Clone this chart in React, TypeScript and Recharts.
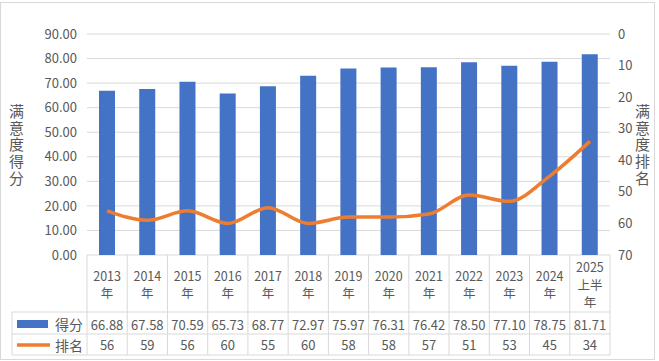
import React from "react";
import {
  ComposedChart,
  Bar,
  Line,
  XAxis,
  YAxis,
  CartesianGrid,
} from "recharts";

// data
const categories = [
  "2013年", "2014年", "2015年", "2016年", "2017年", "2018年", "2019年",
  "2020年", "2021年", "2022年", "2023年", "2024年", "2025上半年",
];
const scores = [66.88, 67.58, 70.59, 65.73, 68.77, 72.97, 75.97, 76.31, 76.42, 78.5, 77.1, 78.75, 81.71];
const ranks = [56, 59, 56, 60, 55, 60, 58, 58, 57, 51, 53, 45, 34];
const scoreTicks = [0, 10, 20, 30, 40, 50, 60, 70, 80, 90];
const rankTicks = [0, 10, 20, 30, 40, 50, 60, 70];

const data = categories.map((c, i) => ({ name: c, score: scores[i], rank: ranks[i] }));

const W = 659;
const H = 361;
const PLOT_L = 87;
const PLOT_R = 610;
const PLOT_T = 34;
const PLOT_B = 255;
const BAND = (PLOT_R - PLOT_L) / categories.length;
const ROW1 = 312;
const ROW2 = 334;
const ROW3 = 355;
const TABLE_L = 12;

const BLUE = "#4472C4";
const ORANGE = "#ED7D31";
const GRID = "#D9D9D9";
const TEXT = "#595959";
const FONT = "'Noto Sans CJK SC', 'Noto Sans', sans-serif";

function splitLabel(s: string) {
  const year = s.slice(0, 4);
  const rest = s.slice(4);
  if (rest.length <= 1) return [year, rest];
  const out = [year];
  for (let i = 0; i < rest.length - 1; i += 2) out.push(rest.slice(i, i + 2));
  if (rest.length % 2 === 1) out.push(rest.slice(-1));
  return out;
}

function TableTick(props: any) {
  const { x, payload } = props;
  const index = props.index ?? payload.index;
  const left = x - BAND / 2;
  const right = x + BAND / 2;
  const lines = splitLabel(categories[index]);
  const lh = 17.5;
  const mid = (PLOT_B + ROW1) / 2;
  const first = mid - ((lines.length - 1) * lh) / 2;
  const last = index === categories.length - 1;
  return (
    <g fontFamily={FONT} fill={TEXT}>
      <line x1={left} x2={left} y1={PLOT_B} y2={ROW3} stroke={GRID} />
      {last && <line x1={right} x2={right} y1={PLOT_B} y2={ROW3} stroke={GRID} />}
      <line x1={left} x2={right} y1={ROW1} y2={ROW1} stroke={GRID} />
      <line x1={left} x2={right} y1={ROW2} y2={ROW2} stroke={GRID} />
      <line x1={left} x2={right} y1={ROW3} y2={ROW3} stroke={GRID} />
      <text x={x} y={first} textAnchor="middle" dominantBaseline="central" fontSize={12.5} fill={TEXT}>
        {lines.map((t, i) => (
          <tspan key={i} x={x} dy={i === 0 ? 0 : lh}>
            {t}
          </tspan>
        ))}
      </text>
      <text x={x} y={(ROW1 + ROW2) / 2 + 1} textAnchor="middle" dominantBaseline="central" fontSize={13} fill={TEXT}>
        {scores[index].toFixed(2)}
      </text>
      <text x={x} y={(ROW2 + ROW3) / 2} textAnchor="middle" dominantBaseline="central" fontSize={13} fill={TEXT}>
        {ranks[index]}
      </text>
      {index === 0 && (
        <g>
          <line x1={TABLE_L} x2={left} y1={ROW1} y2={ROW1} stroke={GRID} />
          <line x1={TABLE_L} x2={left} y1={ROW2} y2={ROW2} stroke={GRID} />
          <line x1={TABLE_L} x2={left} y1={ROW3} y2={ROW3} stroke={GRID} />
          <line x1={TABLE_L} x2={TABLE_L} y1={ROW1} y2={ROW3} stroke={GRID} />
          <rect x={17} y={320} width={31} height={8} fill={BLUE} />
          <text x={55} y={(ROW1 + ROW2) / 2 + 1} dominantBaseline="central" fontSize={14} fill={TEXT}>得分</text>
          <line x1={17} x2={50} y1={345} y2={345} stroke={ORANGE} strokeWidth={3.5} />
          <text x={55} y={(ROW2 + ROW3) / 2} dominantBaseline="central" fontSize={14} fill={TEXT}>排名</text>
        </g>
      )}
    </g>
  );
}

const vTitle: React.CSSProperties = {
  position: "absolute",
  writingMode: "vertical-rl",
  textOrientation: "upright",
  fontFamily: FONT,
  fontSize: 15,
  letterSpacing: 1.6,
  color: TEXT,
  lineHeight: "16px",
};

export default function App() {
  return (
    <div style={{ position: "absolute", left: 0, top: 0, width: W, height: H, background: "#fff" }}>
      <div
        style={{
          position: "absolute",
          left: 0,
          top: 2,
          width: 655,
          height: 358,
          border: `1px solid ${GRID}`,
          boxSizing: "border-box",
        }}
      />
      <ComposedChart
        width={W}
        height={H}
        data={data}
        margin={{ top: PLOT_T, left: PLOT_L - 60, right: W - PLOT_R - 40, bottom: H - ROW3 - 0 }}
        barCategoryGap={0}
        style={{ position: "absolute", left: 0, top: 0 }}
      >
        <CartesianGrid horizontal vertical={false} stroke={GRID} yAxisId="left" />
        <XAxis
          dataKey="name"
          axisLine={false}
          tickLine={false}
          interval={0}
          height={ROW3 - PLOT_B}
          tick={<TableTick />}
        />
        <YAxis
          yAxisId="left"
          width={60}
          domain={[0, 90]}
          ticks={scoreTicks}
          axisLine={false}
          tickLine={false}
          tickSize={0}
          tickMargin={10}
          tickFormatter={(v: number) => v.toFixed(2)}
          tick={{ fill: TEXT, fontSize: 13, fontFamily: FONT }}
        />
        <YAxis
          yAxisId="right"
          orientation="right"
          width={40}
          reversed
          domain={[0, 70]}
          ticks={rankTicks}
          axisLine={false}
          tickLine={false}
          tickSize={0}
          tickMargin={8}
          tick={{ fill: TEXT, fontSize: 13, fontFamily: FONT, textAnchor: "start" }}
        />
        <Bar yAxisId="left" dataKey="score" fill={BLUE} barSize={16} isAnimationActive={false} />
        <Line
          yAxisId="right"
          dataKey="rank"
          type="monotone"
          stroke={ORANGE}
          strokeWidth={3.5}
          dot={false}
          isAnimationActive={false}
        />
      </ComposedChart>
      <div style={{ ...vTitle, left: 8, top: 104 }}>满意度得分</div>
      <div style={{ ...vTitle, left: 634, top: 104 }}>满意度排名</div>
    </div>
  );
}
